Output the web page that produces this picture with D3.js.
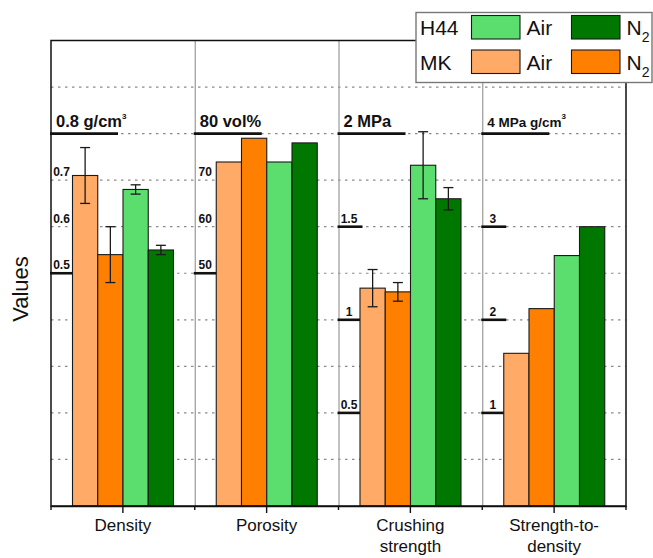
<!DOCTYPE html>
<html>
<head>
<meta charset="utf-8">
<script src="https://cdn.jsdelivr.net/npm/d3@7"></script>
<style>
  body { margin: 0; background: #fff; }
  svg { font-family: Arial, "Liberation Sans", sans-serif; }
</style>
</head>
<body>
<div id="chart"></div>
<script>
// categories (panels) and series
const categories = ['Density', 'Porosity', 'Crushing strength', 'Strength-to-density'];
const categoryLines = [['Density'], ['Porosity'], ['Crushing', 'strength'], ['Strength-to-', 'density']];
const series = ['MK Air', 'MK N2', 'H44 Air', 'H44 N2'];

// values per category, one array per series
const mkAir = [0.71, 73.9, 1.17, 1.64];
const mkN2 = [0.54, 79.0, 1.15, 2.12];
const h44Air = [0.68, 73.9, 1.83, 2.69];
const h44N2 = [0.55, 78.0, 1.65, 3.0];

// error bars (null = none)
const mkAirErr = [0.06, null, 0.10, null];
const mkN2Err = [0.06, null, 0.05, null];
const h44AirErr = [0.01, null, 0.18, null];
const h44N2Err = [0.01, null, 0.06, null];

// each panel has its own value axis
const panelMax = [1, 100, 2.5, 5];
const mainTick = [0.8, 80, 2, 4];
const mainLabel = [['0.8 g/cm', '3'], ['80 vol%', ''], ['2 MPa', ''], ['4 MPa g/cm', '3']];
const minorTicks = [[0.7, 0.6, 0.5], [70, 60, 50], [1.5, 1, 0.5], [3, 2, 1]];
const heavyTicks = [[0.5], [50], [1.5, 1, 0.5], [3, 2, 1]];

const colors = ['#ffaa66', '#ff7f00', '#5bde6e', '#007800'];

const W = 653, H = 558;
const pLeft = 51, pRight = 626, pTop = 40.5, pBottom = 506;

const svg = d3.select('#chart').append('svg').attr('width', W).attr('height', H);

const x = d3.scaleBand().domain(categories).range([pLeft, pRight]);
const bx = d3.scaleBand().domain(series).range([21.5, 122.5]);
const grid = d3.scaleLinear().domain([0, 10]).range([pBottom, pTop]);

// dotted grid
svg.append('g')
  .selectAll('line')
  .data(d3.range(1, 10))
  .join('line')
  .attr('x1', pLeft).attr('x2', pRight)
  .attr('y1', d => grid(d)).attr('y2', d => grid(d))
  .attr('stroke', '#8a8a8a')
  .attr('stroke-width', 1.2)
  .attr('stroke-dasharray', '2.5,4.5');

// panel dividers
svg.append('g')
  .selectAll('line')
  .data(categories.slice(1))
  .join('line')
  .attr('x1', d => x(d) + 0.5).attr('x2', d => x(d) + 0.5)
  .attr('y1', pTop).attr('y2', pBottom)
  .attr('stroke', '#999')
  .attr('stroke-width', 1.2);

const rows = series.map((s, i) => ({
  s,
  vals: [mkAir, mkN2, h44Air, h44N2][i],
  errs: [mkAirErr, mkN2Err, h44AirErr, h44N2Err][i],
  color: colors[i]
}));

categories.forEach((cat, ci) => {
  const px = x(cat);
  const y = d3.scaleLinear().domain([0, panelMax[ci]]).range([pBottom, pTop]);
  const g = svg.append('g');

  // heavy lines
  g.append('line')
    .attr('x1', px - 1).attr('x2', px + 67)
    .attr('y1', y(mainTick[ci])).attr('y2', y(mainTick[ci]))
    .attr('stroke', '#111').attr('stroke-width', 2.6);
  g.selectAll('.hv').data(heavyTicks[ci]).join('line')
    .attr('class', 'hv')
    .attr('x1', px - 1).attr('x2', px + 24)
    .attr('y1', d => y(d)).attr('y2', d => y(d))
    .attr('stroke', '#111').attr('stroke-width', 2.6);

  // main unit label
  const t = g.append('text')
    .attr('x', px + 5).attr('y', y(mainTick[ci]) - 7)
    .attr('font-weight', 'bold')
    .attr('font-size', ci === 3 ? 13.5 : 16.5)
    .attr('fill', '#111')
    .text(mainLabel[ci][0]);
  if (mainLabel[ci][1]) {
    t.append('tspan').attr('dy', -8).attr('font-size', 8).text(mainLabel[ci][1]);
  }

  // minor labels
  g.selectAll('.mn').data(minorTicks[ci]).join('text')
    .attr('class', 'mn')
    .attr('x', px + 10.5).attr('y', d => y(d) - 4)
    .attr('text-anchor', 'middle')
    .attr('font-weight', 'bold')
    .attr('font-size', 12)
    .attr('fill', '#111')
    .text(d => d);

  // bars
  g.selectAll('rect').data(rows).join('rect')
    .attr('x', d => px + bx(d.s))
    .attr('width', bx.bandwidth())
    .attr('y', d => y(d.vals[ci]))
    .attr('height', d => y(0) - y(d.vals[ci]))
    .attr('fill', d => d.color)
    .attr('stroke', '#1a1a1a')
    .attr('stroke-width', 1.1);

  // error bars
  const eb = rows.filter(d => d.errs[ci] != null);
  const eg = g.selectAll('.eb').data(eb).join('g').attr('class', 'eb')
    .attr('stroke', '#1a1a1a').attr('stroke-width', 1.3);
  eg.append('line')
    .attr('x1', d => px + bx(d.s) + bx.bandwidth() / 2)
    .attr('x2', d => px + bx(d.s) + bx.bandwidth() / 2)
    .attr('y1', d => y(d.vals[ci] + d.errs[ci]))
    .attr('y2', d => y(d.vals[ci] - d.errs[ci]));
  [1, -1].forEach(sgn => {
    eg.append('line')
      .attr('x1', d => px + bx(d.s) + bx.bandwidth() / 2 - 5)
      .attr('x2', d => px + bx(d.s) + bx.bandwidth() / 2 + 5)
      .attr('y1', d => y(d.vals[ci] + sgn * d.errs[ci]))
      .attr('y2', d => y(d.vals[ci] + sgn * d.errs[ci]));
  });
});

// frame
svg.append('rect')
  .attr('x', pLeft).attr('y', pTop)
  .attr('width', pRight - pLeft).attr('height', pBottom - pTop)
  .attr('fill', 'none').attr('stroke', '#111').attr('stroke-width', 1.5);

// bottom axis: long ticks at category centres, short ticks at panel borders
const xAxis = svg.append('g')
  .attr('transform', `translate(0,${pBottom})`)
  .call(d3.axisBottom(x).tickSize(7).tickFormat('').tickSizeOuter(0));
xAxis.select('.domain').attr('stroke', '#111').attr('stroke-width', 1.5);
xAxis.selectAll('.tick line').attr('stroke', '#111').attr('stroke-width', 1.4);
svg.append('g').selectAll('line')
  .data(categories.map(c => x(c)).concat([pRight]))
  .join('line')
  .attr('x1', d => d).attr('x2', d => d)
  .attr('y1', pBottom).attr('y2', pBottom + 4)
  .attr('stroke', '#111').attr('stroke-width', 1.4);

// category labels
svg.append('g').selectAll('text')
  .data(categories)
  .join('text')
  .attr('x', d => x(d) + x.bandwidth() / 2)
  .attr('y', 531)
  .attr('text-anchor', 'middle')
  .attr('font-size', 17)
  .attr('fill', '#111')
  .each(function(d, i) {
    d3.select(this).selectAll('tspan').data(categoryLines[i]).join('tspan')
      .attr('x', x(d) + x.bandwidth() / 2)
      .attr('dy', (l, j) => j ? 21 : 0)
      .text(l => l);
  });

// y title
svg.append('text')
  .attr('transform', 'translate(28,289) rotate(-90)')
  .attr('text-anchor', 'middle')
  .attr('font-size', 22)
  .attr('fill', '#111')
  .text('Values');

// legend
const lg = svg.append('g');
lg.append('rect')
  .attr('x', 416).attr('y', 12.5).attr('width', 236).attr('height', 70)
  .attr('fill', '#fff').attr('stroke', '#777').attr('stroke-width', 1.4);
const legendRows = [
  { name: 'H44', items: [2, 3], y: 15.5 },
  { name: 'MK', items: [0, 1], y: 50 }
];
legendRows.forEach(r => {
  lg.append('text').attr('x', 420).attr('y', r.y + 19.5)
    .attr('font-size', 21).attr('fill', '#111').text(r.name);
  r.items.forEach((si, k) => {
    const sx = 471.5 + k * 100;
    lg.append('rect')
      .attr('x', sx).attr('y', r.y).attr('width', 48.5).attr('height', 23.5)
      .attr('fill', colors[si]).attr('stroke', '#1a1a1a').attr('stroke-width', 1.1);
    const tx = lg.append('text').attr('x', sx + 55).attr('y', r.y + 19.5)
      .attr('font-size', 21).attr('fill', '#111');
    if (k === 0) {
      tx.text('Air');
    } else {
      tx.text('N');
      tx.append('tspan').attr('dy', 7).attr('font-size', 14).text('2');
    }
  });
});
</script>
</body>
</html>
